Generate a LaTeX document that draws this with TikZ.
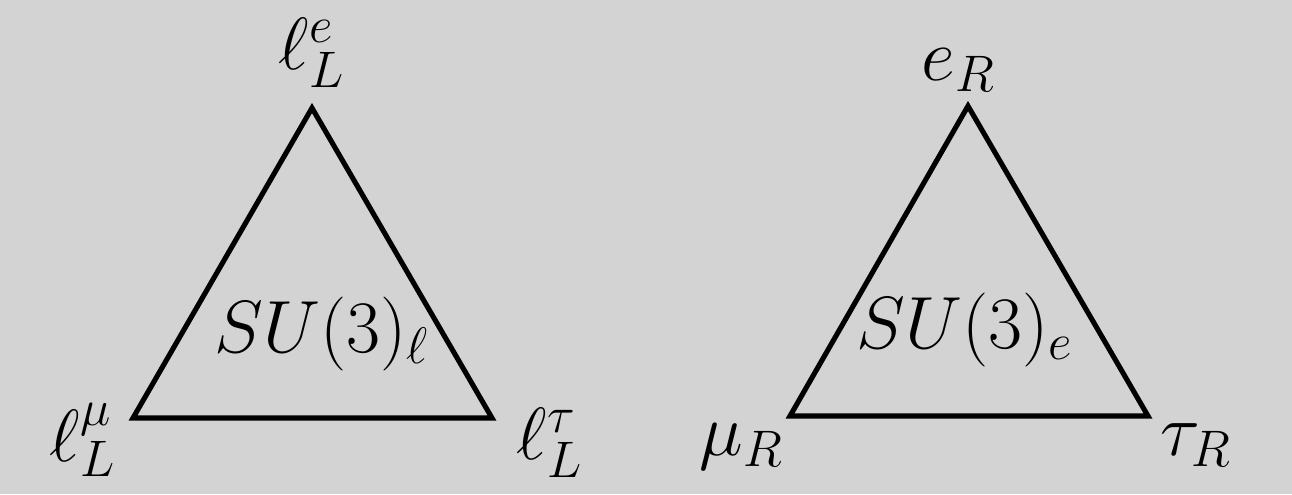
\documentclass[tikz,border=0pt]{standalone}
\definecolor{bg}{HTML}{D3D3D3}
\begin{document}
\begin{tikzpicture}[x=0.02cm,y=-0.02cm,
  edge/.style={line width=2.9pt,line join=miter,black},
  lbl/.style={inner sep=0pt,font=\huge,scale=2.03}]
\fill[bg] (0,0) rectangle (1292,494);
\useasboundingbox (0,0) rectangle (1292,494);
% left triangle
\coordinate (A1) at (312,108);
\coordinate (B1) at (133,418);
\coordinate (C1) at (492,418);
\draw[edge] (A1) -- (B1) -- (C1) -- cycle;
% right triangle
\coordinate (A2) at (968,106);
\coordinate (B2) at (790,416);
\coordinate (C2) at (1148,416);
\draw[edge] (A2) -- (B2) -- (C2) -- cycle;
% labels
\node[lbl] (le) at (312,53) {$\ell^e_L$};
\node[lbl] (lmu) at (83,440) {$\ell^\mu_L$};
\node[lbl] (ltau) at (550,443) {$\ell^\tau_L$};
\node[lbl] (su1) at (322,334) {$SU(3)_\ell$};
\node[lbl] (eR) at (959,70) {$e_R$};
\node[lbl] (muR) at (742,447) {$\mu_R$};
\node[lbl] (tauR) at (1196,445) {$\tau_R$};
\node[lbl] (su2) at (965,330) {$SU(3)_e$};
\end{tikzpicture}
\end{document}
